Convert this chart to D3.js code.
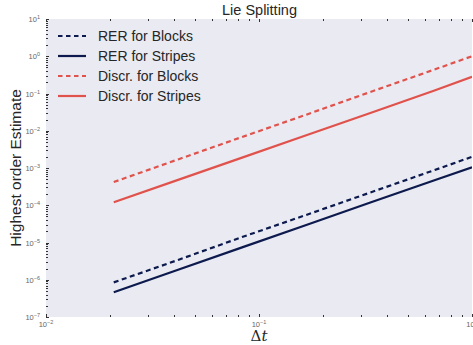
<!DOCTYPE html>
<html>
<head>
<meta charset="utf-8">
<script src="https://cdn.jsdelivr.net/npm/d3@7"></script>
<style>
  body { margin: 0; background: #fff; }
  svg { display: block; font-family: "Liberation Sans", Arial, sans-serif; }
</style>
</head>
<body>
<div id="chart"></div>
<script>
const dt = [0.0208, 0.0417, 0.0833, 0.1667, 0.3333, 0.6667, 1.0];
const rerBlocks = [8.5e-7, 3.4e-6, 1.4e-5, 5.5e-5, 2.2e-4, 8.8e-4, 2.0e-3];
const rerStripes = [4.6e-7, 1.85e-6, 7.4e-6, 2.95e-5, 1.18e-4, 4.7e-4, 1.05e-3];
const discrBlocks = [4.2e-4, 1.7e-3, 6.8e-3, 2.7e-2, 1.1e-1, 4.4e-1, 1.0];
const discrStripes = [1.2e-4, 4.8e-4, 1.9e-3, 7.6e-3, 3.0e-2, 1.2e-1, 0.28];

const seriesNames = ['RER for Blocks', 'RER for Stripes', 'Discr. for Blocks', 'Discr. for Stripes'];
const seriesColors = ['#0c1a4d', '#0c1a4d', '#e0524c', '#e0524c'];
const seriesDashed = [true, false, true, false];
const seriesValues = [rerBlocks, rerStripes, discrBlocks, discrStripes];

const xDomain = [1e-2, 1e0];
const yDomain = [1e-7, 1e1];

const width = 473;
const height = 345;
const margin = { top: 19, right: 1, bottom: 28, left: 46 };

const svg = d3.select('#chart')
  .append('svg')
  .attr('width', width)
  .attr('height', height);

const x = d3.scaleLog().domain(xDomain).range([margin.left, width - margin.right]);
const y = d3.scaleLog().domain(yDomain).range([height - margin.bottom, margin.top]);

// plot background
svg.append('rect')
  .attr('x', margin.left)
  .attr('y', margin.top)
  .attr('width', width - margin.right - margin.left)
  .attr('height', height - margin.bottom - margin.top)
  .attr('fill', '#eaeaf2');

// ticks (inside, small)
const minorTicks = (domain) => {
  const out = [];
  for (let p = Math.log10(domain[0]); p < Math.log10(domain[1]); p += 1) {
    for (let m = 1; m < 10; m += 1) out.push(m * 10 ** p);
  }
  out.push(domain[1]);
  return out;
};

const tickG = svg.append('g').attr('stroke', '#333').attr('stroke-width', 1);
minorTicks(xDomain).forEach((v) => {
  const major = Math.abs(Math.log10(v) - Math.round(Math.log10(v))) < 1e-9;
  const len = major ? 3 : 2;
  const px = Math.round(x(v)) + 0.5;
  tickG.append('line').attr('x1', px).attr('x2', px)
    .attr('y1', y.range()[0]).attr('y2', y.range()[0] - len);
  tickG.append('line').attr('x1', px).attr('x2', px)
    .attr('y1', y.range()[1]).attr('y2', y.range()[1] + len);
});
minorTicks(yDomain).forEach((v) => {
  const major = Math.abs(Math.log10(v) - Math.round(Math.log10(v))) < 1e-9;
  const len = major ? 3 : 2;
  const py = Math.round(y(v)) + 0.5;
  tickG.append('line').attr('y1', py).attr('y2', py)
    .attr('x1', x.range()[0]).attr('x2', x.range()[0] + len);
});

// tick labels
const addPow = (sel, e) => {
  sel.append('tspan').text('10');
  sel.append('tspan').attr('dy', -3).attr('font-size', 5.5).text(String(e).replace('-', '\u2212'));
};

d3.range(-2, 1).forEach((e) => {
  const t = svg.append('text')
    .attr('x', x(10 ** e))
    .attr('y', height - margin.bottom + 10)
    .attr('text-anchor', 'middle')
    .attr('font-size', 7.5)
    .attr('fill', '#666');
  addPow(t, e);
});
d3.range(-7, 2).forEach((e) => {
  const t = svg.append('text')
    .attr('x', margin.left - 6)
    .attr('y', y(10 ** e) + 3)
    .attr('text-anchor', 'end')
    .attr('font-size', 7.5)
    .attr('fill', '#666');
  addPow(t, e);
});

// lines
const line = d3.line()
  .x((d, i) => x(dt[i]))
  .y((d) => y(d));

svg.append('clipPath').attr('id', 'plot-clip')
  .append('rect')
  .attr('x', margin.left)
  .attr('y', margin.top)
  .attr('width', width - margin.right - margin.left)
  .attr('height', height - margin.bottom - margin.top);

svg.append('g')
  .attr('clip-path', 'url(#plot-clip)')
  .selectAll('path')
  .data(seriesValues)
  .enter()
  .append('path')
  .attr('d', line)
  .attr('fill', 'none')
  .attr('stroke', (d, i) => seriesColors[i])
  .attr('stroke-width', 2.2)
  .attr('stroke-dasharray', (d, i) => (seriesDashed[i] ? '5,3.5' : null));

// legend
const legend = svg.append('g').attr('transform', 'translate(57,36)');
seriesNames.forEach((name, i) => {
  const row = legend.append('g').attr('transform', `translate(0,${i * 20})`);
  row.append('line')
    .attr('x1', 1).attr('x2', 29)
    .attr('stroke', seriesColors[i])
    .attr('stroke-width', 2.2)
    .attr('stroke-dasharray', seriesDashed[i] ? '4.5,3.5' : null);
  row.append('text')
    .attr('x', 41)
    .attr('y', 5)
    .attr('font-size', 14)
    .attr('fill', '#262626')
    .text(name);
});

// title and axis labels
svg.append('text')
  .attr('x', (margin.left + width) / 2)
  .attr('y', 15)
  .attr('text-anchor', 'middle')
  .attr('font-size', 14.5)
  .attr('fill', '#262626')
  .text('Lie Splitting');

svg.append('text')
  .attr('transform', `translate(21,${(margin.top + height - margin.bottom) / 2}) rotate(-90)`)
  .attr('text-anchor', 'middle')
  .attr('font-size', 15.5)
  .attr('fill', '#262626')
  .text('Highest order Estimate');

const xl = svg.append('text')
  .attr('x', x(0.1))
  .attr('y', height - 4)
  .attr('text-anchor', 'middle')
  .attr('font-size', 15)
  .attr('fill', '#262626')
  .attr('font-family', '"DejaVu Serif", serif');
xl.append('tspan').text('\u0394');
xl.append('tspan').attr('font-style', 'italic').text('t');
</script>
</body>
</html>
